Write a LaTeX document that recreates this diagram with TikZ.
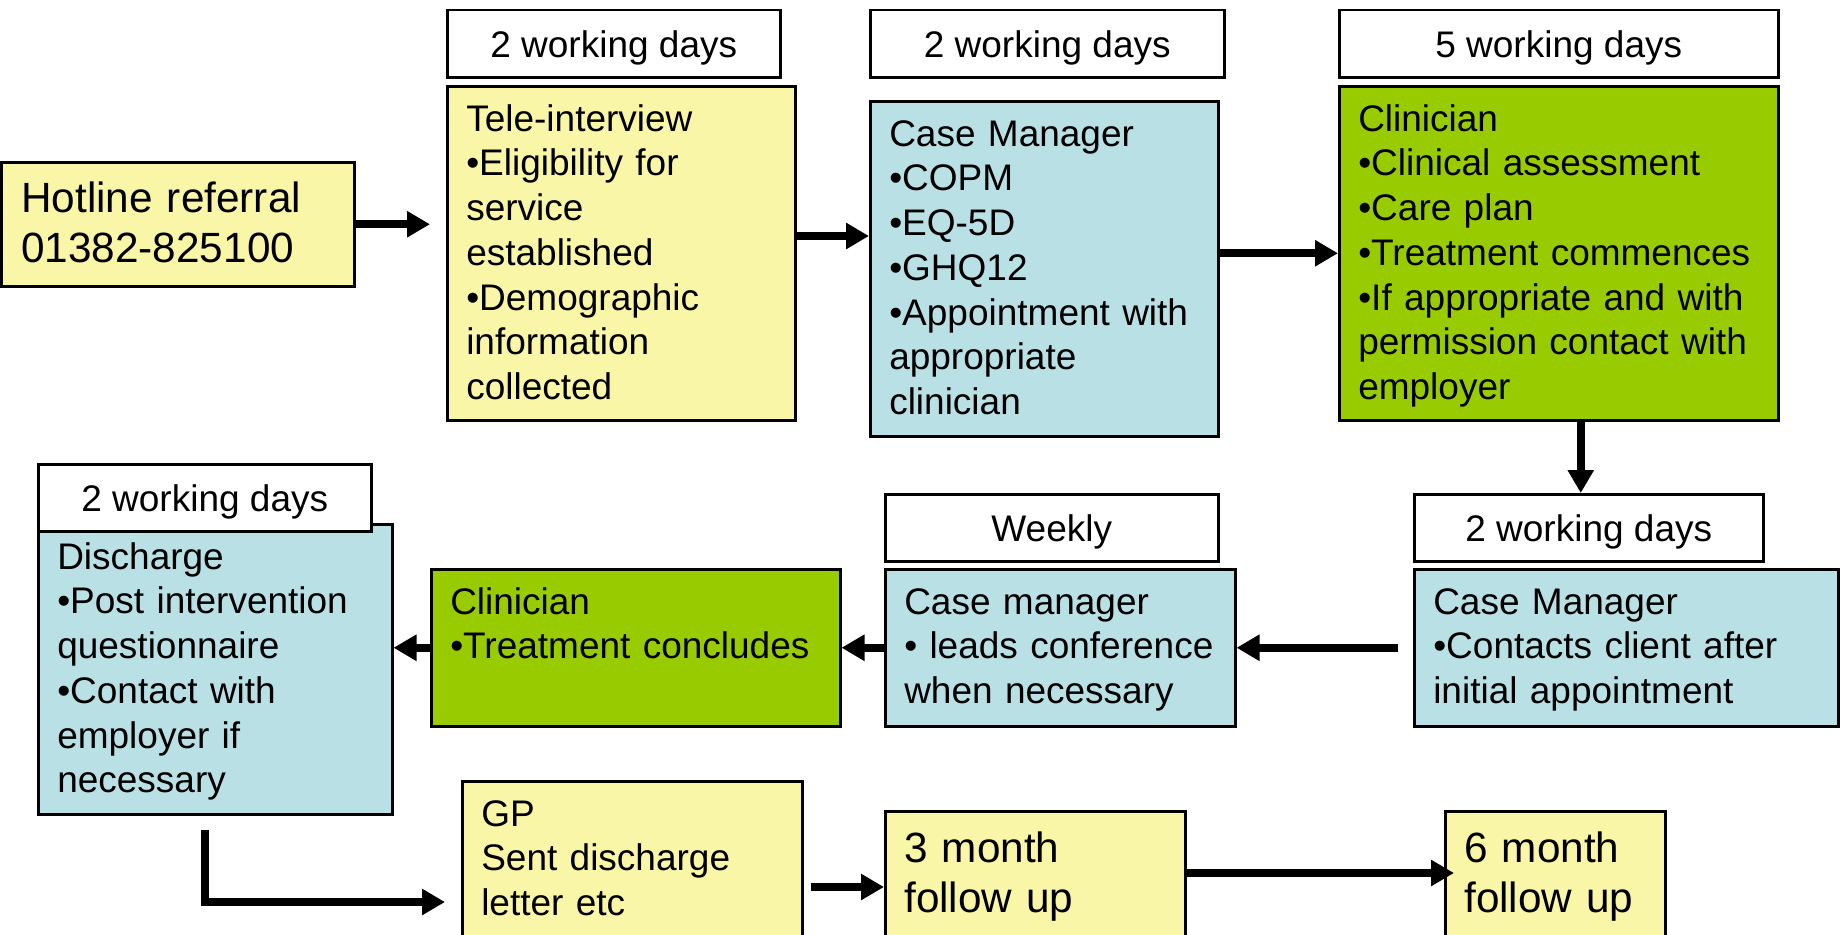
\documentclass[tikz,border=0pt]{standalone}
\usepackage{fontspec}
\setmainfont{Liberation Sans}
\usepackage{xcolor}
\usetikzlibrary{arrows.meta}
\definecolor{stage yellow}{HTML}{F9F6A8}
\definecolor{stage blue}{HTML}{B9E0E4}
\definecolor{stage green}{HTML}{99CC00}
\colorlet{box edge}{black}
\def\bodyfont{\fontsize{37pt}{44.7pt}\selectfont}
\def\bigfont{\fontsize{42.3pt}{50.7pt}\selectfont}
\tikzset{stage/.style={draw=box edge, line width=2.5pt, anchor=north west, align=left,
        inner xsep=19pt, inner ysep=0pt, text height=45pt, font=\bodyfont},
    yellowstage/.style={stage, fill=stage yellow},
    bluestage/.style={stage, fill=stage blue},
    greenstage/.style={stage, fill=stage green},
    timing/.style={draw=box edge, line width=2.5pt, fill=white, anchor=north west,
        inner sep=0pt, minimum height=67pt, text height=27pt, text depth=0pt, font=\bodyfont},
    flow/.style={line width=8pt, -{Triangle[length=23pt,width=25pt]}}}

\begin{document}
\begin{tikzpicture}[x=1pt, y=-1pt]
    \useasboundingbox (0,0) rectangle (1843,934);
    \clip (0,0) rectangle (1843,934);

    \node[yellowstage, font=\bigfont, inner xsep=20pt, text height=50pt, text width=313pt, text depth=74pt]
        (hot) at (0,161) {Hotline referral\\01382-825100};
    \node[yellowstage, text width=310pt, text depth=289pt] (tele) at (446,85)
        {Tele-interview\\•Eligibility for\\service\\established\\•Demographic\\information\\collected};
    \node[bluestage, text width=310pt, text depth=290pt] (cm1) at (869,100)
        {Case Manager\\•COPM\\•EQ-5D\\•GHQ12\\•Appointment with\\appropriate\\clinician};
    \node[greenstage, text width=401pt, text depth=289pt] (clin1) at (1338,85)
        {Clinician\\•Clinical assessment\\•Care plan\\•Treatment commences\\•If appropriate and with\\permission contact with\\employer};
    \node[bluestage, text width=386pt, text depth=112pt] (cm2) at (1413,568)
        {Case Manager\\•Contacts client after\\initial appointment};
    \node[bluestage, text width=312pt, text depth=112pt] (cm3) at (884,568)
        {Case manager\\• leads conference\\when necessary};
    \node[greenstage, text width=371pt, text depth=112pt] (clin2) at (430,568)
        {Clinician\\•Treatment concludes};
    \node[bluestage, text width=316pt, text depth=245pt] (dis) at (37,523)
        {Discharge\\•Post intervention\\questionnaire\\•Contact with\\employer if\\necessary};
    \node[yellowstage, text width=302pt, text depth=185pt] (gp) at (461,780)
        {GP\\Sent discharge\\letter etc};
    \node[yellowstage, font=\bigfont, text height=51pt, text width=262pt, text depth=149pt]
        (m3) at (884,810) {3 month\\follow up};
    \node[yellowstage, font=\bigfont, text height=51pt, text width=182pt, text depth=149pt]
        (m6) at (1444,810) {6 month\\follow up};

    \node[timing, minimum width=333pt] (t1) at (446,9) {2 working days};
    \node[timing, minimum width=354pt] (t2) at (869,9) {2 working days};
    \node[timing, minimum width=439pt] (t3) at (1338,9) {5 working days};
    \node[timing, minimum width=349pt] (t4) at (1413,493) {2 working days};
    \node[timing, minimum width=333pt] (tweek) at (884,493) {Weekly};
    \node[timing, minimum width=333pt] (t5) at (37,463) {2 working days};

    \draw[flow, shorten >=16pt] (hot.east) -- (hot.east -| tele.west);
    \draw[flow] ([yshift=-151pt]tele.north east) -- ([yshift=-151pt]tele.north east -| cm1.west);
    \draw[flow] (cm1.east |- clin1.west) -- (clin1.west);
    \draw[flow] ([xshift=22pt]clin1.south) -- ([xshift=22pt]clin1.south |- t4.north);
    \draw[flow, shorten <=15pt] (cm2.west) -- (cm2.west -| cm3.east);
    \draw[flow] (cm3.west) -- (cm3.west -| clin2.east);
    \draw[flow] (clin2.west) -- (clin2.west -| dis.east);
    \draw[flow, shorten <=14pt, shorten >=16pt] ([xshift=-10pt]dis.south) |- ([yshift=-122pt]gp.north west);
    \draw[flow, shorten <=7pt] ([yshift=-107pt]gp.north east) -- ([yshift=-107pt]gp.north east -| m3.west);
    \draw[flow, shorten >=-10pt] ([yshift=-63pt]m3.north east) -- ([yshift=-63pt]m3.north east -| m6.west);
\end{tikzpicture}
\end{document}
